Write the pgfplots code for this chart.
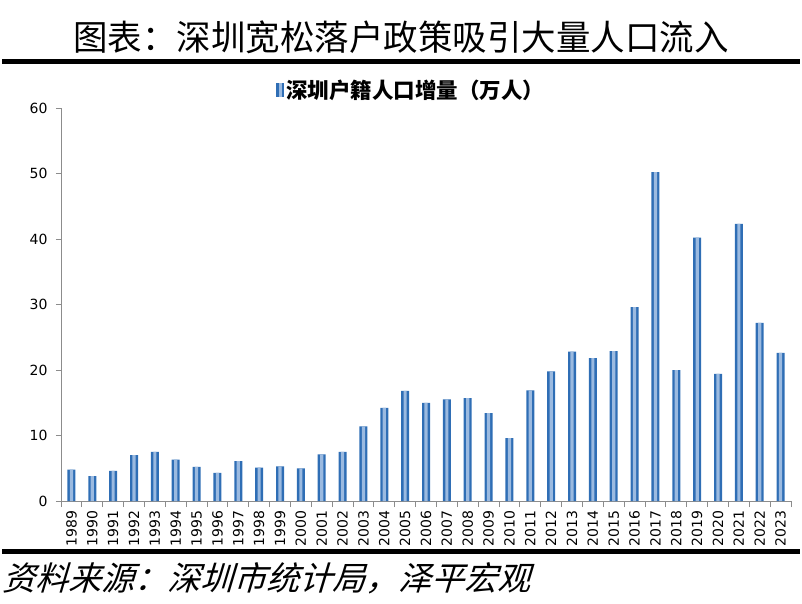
\documentclass[border=0pt]{standalone}
\usepackage{pgfplots}
\pgfplotsset{compat=1.18}
\usepackage{pgfplotstable}
\usepackage{fontspec}
\setmainfont{DejaVu Sans}
\newfontfamily\cjk{Noto Sans CJK SC}
\definecolor{bardark}{HTML}{2F6EB5}
\definecolor{barlight}{HTML}{9BBAE0}
\definecolor{axgray}{HTML}{8C8C8C}
\pgfplotstableread{
x y
0 4.8
1 3.8
2 4.6
3 7.0
4 7.5
5 6.3
6 5.2
7 4.3
8 6.1
9 5.1
10 5.3
11 5.0
12 7.1
13 7.5
14 11.4
15 14.2
16 16.8
17 15.0
18 15.5
19 15.7
20 13.4
21 9.6
22 16.9
23 19.8
24 22.8
25 21.8
26 22.9
27 29.6
28 50.2
29 20.0
30 40.2
31 19.4
32 42.3
33 27.2
34 22.6
}\datatable
\begin{document}
\begin{tikzpicture}[x=1pt,y=1pt]
\useasboundingbox (0,0) rectangle (802,603);
\node[font=\cjk\fontsize{35}{40}\selectfont, xscale=0.985] at (401,566) {图表：深圳宽松落户政策吸引大量人口流入};
\fill[black] (2,538.5) rectangle (800,543.5);
\fill[black] (2,49.5) rectangle (800,54.5);
\node[font=\cjk\fontsize{33}{36}\selectfont, xslant=0.3, anchor=west] at (3,25) {资料来源：深圳市统计局，泽平宏观};
\begin{axis}[
  at={(61pt,102pt)}, anchor=south west,
  scale only axis, width=730pt, height=393pt,
  ymin=0, ymax=60, ytick={0,10,...,60},
  xmin=-0.5, xmax=34.5,
  xtick={0,...,34},
  xticklabels={1989,1990,1991,1992,1993,1994,1995,1996,1997,1998,1999,2000,2001,2002,2003,2004,2005,2006,2007,2008,2009,2010,2011,2012,2013,2014,2015,2016,2017,2018,2019,2020,2021,2022,2023},
  minor xtick={-0.5,0.5,...,34.5},
  major x tick style={draw=none},
  minor x tick style={axgray, line width=0.8pt},
  y tick style={axgray, line width=0.8pt},
  tick align=outside,
  major tick length=5pt, minor tick length=6pt,
  axis x line*=bottom, axis y line*=left,
  axis line style={axgray, line width=0.9pt, -},
  x tick label style={rotate=90, anchor=east, font=\fontsize{14}{16}\selectfont, xshift=-1pt},
  y tick label style={font=\fontsize{14}{16}\selectfont, xshift=-5pt},
  /pgf/number format/assume math mode=true,
  legend style={at={(0.48,1.046)}, anchor=center, draw=none, fill=none,
    font=\cjk\bfseries\fontsize{21.5}{23}\selectfont},
  legend image code/.code={
    \fill[bardark] (0pt,-7pt) rectangle (8pt,7pt);
    \fill[barlight] (3pt,-7pt) rectangle (5.5pt,7pt);
  },
]
\addplot[ybar, bar width=8pt, bar shift=0pt, fill=bardark, draw=none] table[x=x,y=y] {\datatable};
\addlegendentry{深圳户籍人口增量（万人）}
\addplot[ybar, bar width=3.2pt, bar shift=0pt, fill=barlight, draw=none, forget plot] table[x=x,y=y] {\datatable};
\end{axis}
\end{tikzpicture}
\end{document}
